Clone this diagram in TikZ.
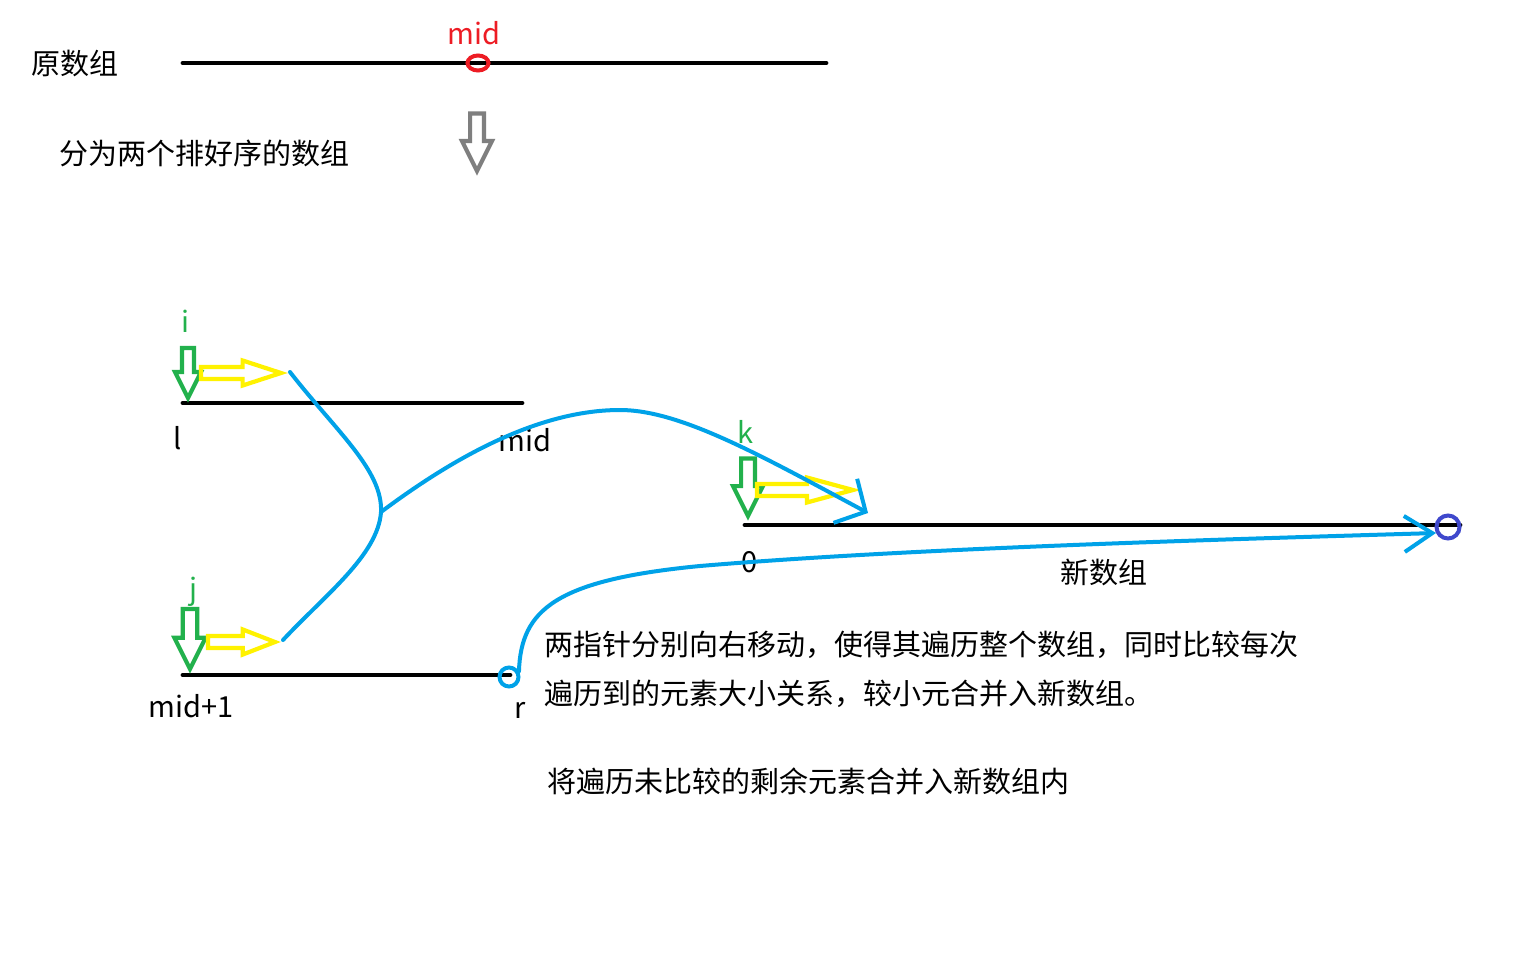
\documentclass[tikz,border=0pt]{standalone}
\usepackage{fontspec}
\setmainfont{Noto Sans CJK SC}
\usetikzlibrary{arrows.meta,shapes.geometric}
\definecolor{pblue}{HTML}{00A2E8}
\definecolor{pgreen}{HTML}{22B14C}
\definecolor{pyellow}{HTML}{FFF200}
\definecolor{pred}{HTML}{ED1C24}
\definecolor{pgray}{HTML}{7F7F7F}
\definecolor{pindigo}{HTML}{3F48CC}

\begin{document}
\begin{tikzpicture}[x=1pt,y=-1pt,
		font=\fontsize{29}{34}\selectfont,
		bar/.style={line width=4.8pt,line cap=round},
		trail/.style={pblue,line width=4pt,line cap=round},
		ring/.style={draw,circle,line width=4pt,inner sep=0pt},
		hollow/.style={line width=4.2pt},
		pics/downarr/.style={code={
			\draw (-6,-50) -- (-6,-26) -- (-13,-26) -- (0,0) -- (13,-26) -- (6,-26) -- (6,-50) -- cycle;
		}},
		pics/rightarr/.style={code={
			\draw (-#1,-6) -- ({-0.48*#1},-6) -- ({-0.48*#1},-12.5) -- (0,0) -- ({-0.48*#1},12.5) -- ({-0.48*#1},6) -- (-#1,6) -- cycle;
		}}]
		\fill[white] (0,0) rectangle (1536,960);
		\useasboundingbox (0,0) rectangle (1536,960);

		\node (orig) at (75,64) {原数组};
		\coordinate (o1) at (183,63);
		\coordinate (o2) at (826,63);
		\draw[bar] (o1) -- (o2);
		\node[draw=pred,line width=4pt,ellipse,minimum width=21pt,minimum height=15pt,inner sep=0pt] (omid) at (478,63) {};
		\node[pred] (midtop) at (474,33) {mid};
		\node (split) at (204,153) {分为两个排好序的数组};
		\pic[pgray,hollow,scale=1.15] at (477,171) {downarr};

		\coordinate (l) at (183,403);
		\coordinate (m) at (522,403);
		\coordinate (m1) at (183,675);
		\coordinate (r) at (510,675);
		\coordinate (z) at (745,525);
		\coordinate (zend) at (1460,525);
		\draw[bar] (l) -- (m);
		\draw[bar] (m1) -- (r);
		\draw[bar] (z) -- (zend);

		\node (llab) at (178,438) {l};
		\node (mlab) at (525,440) {mid};
		\node (m1lab) at (191,706) {mid+1};
		\node (rlab) at (520,710) {r};
		\node (zlab) at (750,562) {0};
		\node (newlab) at (1104,572) {新数组};
		\node[pgreen] (ilab) at (185,321) {i};
		\node[pgreen] (jlab) at (193,592) {j};
		\node[pgreen] (klab) at (745,432) {k};

		\pic[pgreen,hollow] at (188,398) {downarr};
		\pic[pgreen,hollow,scale=1.2] at (190,669) {downarr};
		\pic[pgreen,hollow,scale=1.15] at (748,516) {downarr};
		\pic[pyellow,hollow] at (281,373) {rightarr=80};
		\pic[pyellow,hollow] at (275,642) {rightarr=67};
		\pic[pyellow,hollow] at (853,490) {rightarr=96};

		\node (t1) [anchor=west] at (541,645) {两指针分别向右移动，使得其遍历整个数组，同时比较每次};
		\node (t2) [anchor=west] at (541,694) {遍历到的元素大小关系，较小元合并入新数组。};
		\node (t3) [anchor=west] at (544,781) {将遍历未比较的剩余元素合并入新数组内};

		\coordinate (ihead) at (290,372);
		\coordinate (jhead) at (283,640);
		\coordinate (fork) at (381,512);
		\coordinate (khead) at (868,513);
		\coordinate (newend) at (1436,533);
		\node[ring,pblue,minimum size=19pt] (rring) at (509,677) {};
		\node[ring,pindigo,minimum size=23pt] (endring) at (1448,527) {};

		\draw[trail] (ihead) .. controls (335,430) and (383,470) .. (fork)
			.. controls (378,555) and (325,595) .. (jhead);
		\draw[trail,-{Straight Barb[length=23pt,width=50pt]}] (fork) .. controls (440,468) and (530,410) .. (620,410)
			.. controls (680,410) and (760,455) .. (khead);
		\draw[trail,-{Straight Barb[length=28pt,width=36pt]}] (rring.30) .. controls (521,610) and (555,580) .. (700,566)
			.. controls (900,549) and (1200,540) .. (newend);
	\end{tikzpicture}
\end{document}
